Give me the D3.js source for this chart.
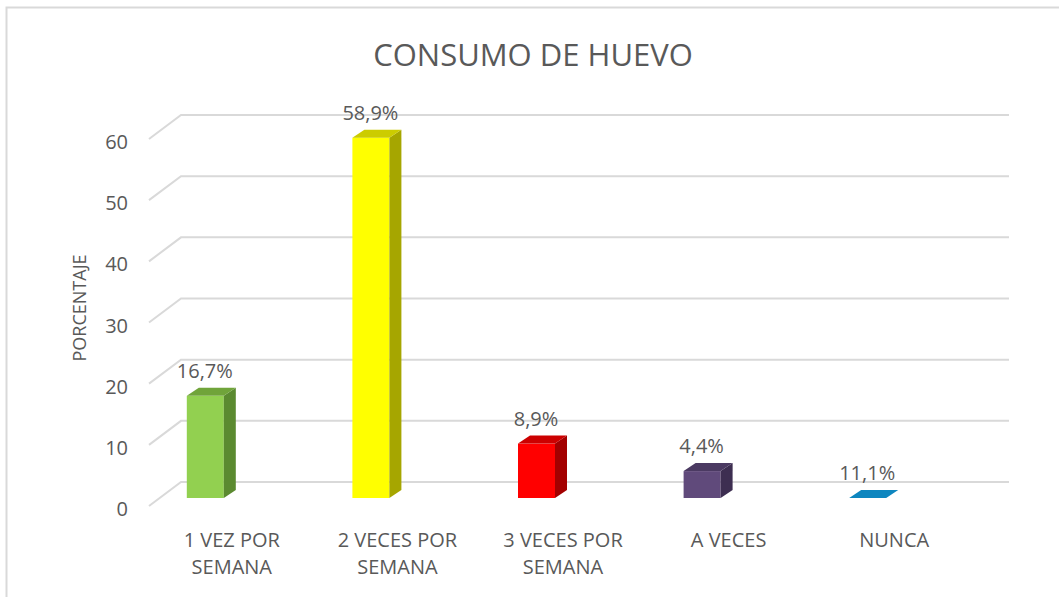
<html>
<head>
<script src="https://d3js.org/d3.v7.min.js" charset="utf-8"></script>
<style>
body { margin:0; background:#ffffff; font-family:"Open Sans", sans-serif; }
svg text { fill:#595959; font-family:"Open Sans", sans-serif; }
</style>
</head>
<body>
<svg width="1059" height="597" id="viz"></svg>
<script>
var categories = [["1 VEZ POR","SEMANA"],["2 VECES POR","SEMANA"],["3 VECES POR","SEMANA"],["A VECES"],["NUNCA"]];
var values = [16.7, 58.9, 8.9, 4.4, 0];
var valueLabels = ["16,7%","58,9%","8,9%","4,4%","11,1%"];
var yTicks = [0,10,20,30,40,50,60];
var frontColors = ["#92d050","#ffff00","#ff0000","#604a7b","#0e86bf"];
var topColors = ["#70a43a","#cccc00","#cc0000","#4b3a62","#0e86bf"];
var sideColors = ["#5b8a30","#a6a600","#a30000","#3d2e51","#0a6f9e"];

var svg = d3.select("#viz");

// chart frame (runs off the right and bottom edge like the source)
svg.append("rect").attr("x",6.5).attr("y",7.5).attr("width",1100).attr("height",700)
	.attr("fill","none").attr("stroke","#d9d9d9").attr("stroke-width",2);

var xScale = d3.scaleBand().domain(d3.range(categories.length)).range([149,977]);
var yScale = d3.scaleLinear().domain([0,60]).range([498,131]);

// 3D depth offsets
var gridFront = 8, gridBack = -16, gridDx = 32;
var barW = 37, depthX = 12, depthY = 8;

svg.append("text").text("CONSUMO DE HUEVO")
	.attr("x",533).attr("y",66).attr("text-anchor","middle")
	.style("font-size","31px");

var grid = svg.append("g");
yTicks.forEach(function (t) {
	var yf = yScale(t) + gridFront, yb = yScale(t) + gridBack;
	grid.append("path")
		.attr("d","M 149 "+yf+" L "+(149+gridDx)+" "+yb+" L 1009 "+yb)
		.attr("fill","none").attr("stroke","#d9d9d9").attr("stroke-width",2);
	grid.append("text").text(t)
		.attr("x",128).attr("y",yScale(t)+18).attr("text-anchor","end")
		.style("font-size","20px");
});

svg.append("text").text("PORCENTAJE")
	.attr("transform","translate(86,308)rotate(-90)").attr("text-anchor","middle")
	.style("font-size","18px");

var bars = svg.selectAll(".bar").data(values).enter().append("g").attr("class","bar");
bars.each(function (v,i) {
	var g = d3.select(this);
	var L = xScale(i) + xScale.bandwidth()/2 - 45;
	var yt = yScale(v), yb = yScale(0);
	if (v > 0) {
		g.append("rect").attr("x",L).attr("y",yt).attr("width",barW).attr("height",yb-yt)
			.attr("fill",frontColors[i]);
		g.append("path")
			.attr("d","M "+(L+barW)+" "+yt+" L "+(L+barW+depthX)+" "+(yt-depthY)+" L "+(L+barW+depthX)+" "+(yb-depthY)+" L "+(L+barW)+" "+yb+" Z")
			.attr("fill",sideColors[i]);
	}
	g.append("path")
		.attr("d","M "+L+" "+yt+" L "+(L+barW)+" "+yt+" L "+(L+barW+depthX)+" "+(yt-depthY)+" L "+(L+depthX)+" "+(yt-depthY)+" Z")
		.attr("fill",topColors[i]);
	g.append("text").text(valueLabels[i])
		.attr("x",L+18).attr("y",yt-18).attr("text-anchor","middle")
		.style("font-size","20px");
});

var catLabels = svg.selectAll(".cat").data(categories).enter().append("text").attr("class","cat")
	.attr("text-anchor","middle").style("font-size","20px");
catLabels.each(function (lines,i) {
	var cx = xScale(i) + xScale.bandwidth()/2;
	d3.select(this).selectAll("tspan").data(lines).enter().append("tspan")
		.attr("x",cx).attr("y",function (d,j) { return 547 + j*27; })
		.text(function (d) { return d; });
});
</script>
</body>
</html>
